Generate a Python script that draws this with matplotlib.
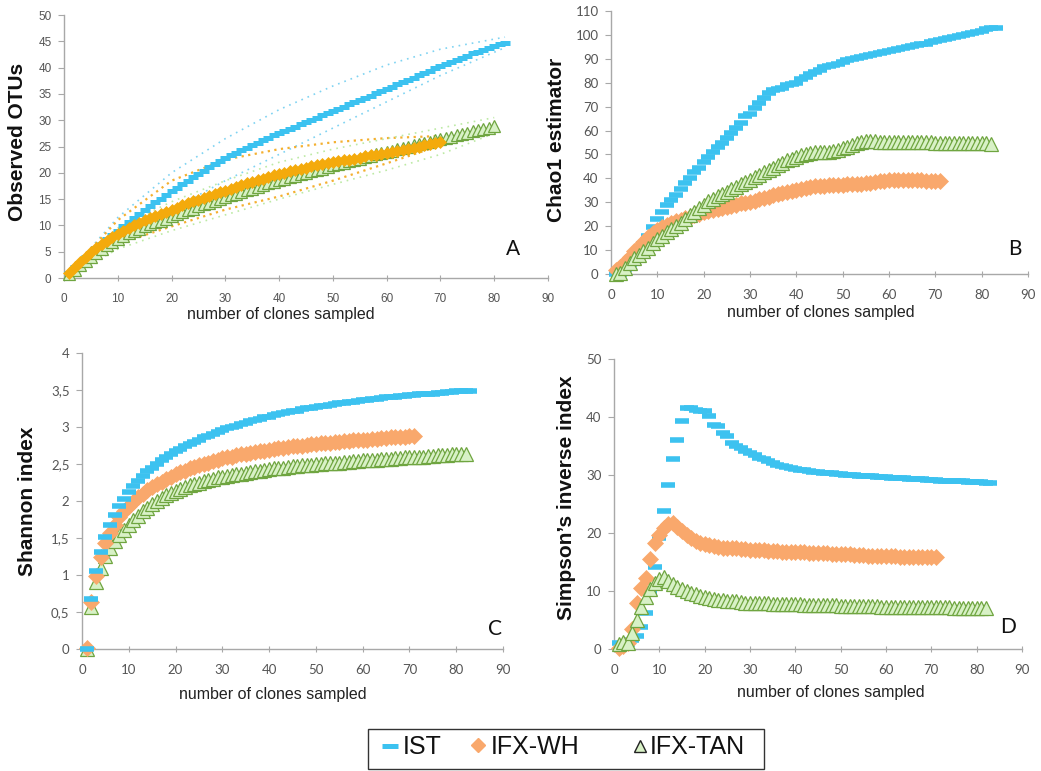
import matplotlib
matplotlib.use("Agg")
import matplotlib.pyplot as plt
from matplotlib.ticker import FuncFormatter, MultipleLocator
from matplotlib.patches import Rectangle

W, H = 1041, 771

# ---------------- data ----------------
# Panel A: Observed OTUs
A_ist = [1.0, 2.0, 2.9, 3.9, 4.8, 5.7, 6.5, 7.4, 8.2, 9.0,
         9.8, 10.6, 11.4, 12.1, 12.9, 13.6, 14.4, 15.1, 15.8, 16.5,
         17.2, 17.8, 18.5, 19.2, 19.8, 20.4, 21.1, 21.7, 22.3, 22.8,
         23.3, 23.8, 24.3, 24.8, 25.3, 25.7, 26.2, 26.6, 27.1, 27.5,
         27.9, 28.3, 28.8, 29.2, 29.6, 30.0, 30.4, 30.9, 31.3, 31.7,
         32.1, 32.5, 33.0, 33.4, 33.8, 34.2, 34.6, 35.1, 35.5, 35.9,
         36.3, 36.8, 37.2, 37.7, 38.1, 38.5, 39.0, 39.4, 39.9, 40.3,
         40.7, 41.1, 41.5, 41.9, 42.3, 42.7, 43.0, 43.4, 43.8, 44.1, 44.4, 44.7]
A_wh = [1.0, 2.0, 3.0, 4.0, 5.0, 5.7, 6.4, 7.1, 7.8, 8.4,
        9.0, 9.5, 10.0, 10.5, 11.0, 11.4, 11.8, 12.2, 12.6, 13.0,
        13.4, 13.8, 14.2, 14.6, 14.9, 15.3, 15.6, 15.9, 16.3, 16.6,
        17.0, 17.3, 17.6, 18.0, 18.3, 18.6, 18.9, 19.2, 19.5, 19.8,
        20.0, 20.3, 20.5, 20.8, 21.0, 21.2, 21.4, 21.6, 21.8, 22.0,
        22.2, 22.4, 22.5, 22.7, 22.9, 23.1, 23.3, 23.4, 23.6, 23.8,
        24.0, 24.2, 24.4, 24.6, 24.8, 25.0, 25.2, 25.5, 25.7, 25.9]
A_tan = [0.8, 1.6, 2.4, 3.2, 4.0, 4.8, 5.5, 6.2, 6.9, 7.5,
         8.0, 8.5, 8.9, 9.4, 9.8, 10.2, 10.6, 10.9, 11.3, 11.7,
         12.1, 12.5, 12.9, 13.2, 13.6, 14.0, 14.3, 14.7, 15.0, 15.4,
         15.7, 16.0, 16.4, 16.7, 17.0, 17.3, 17.6, 18.0, 18.3, 18.6,
         18.9, 19.2, 19.4, 19.7, 20.0, 20.3, 20.6, 20.8, 21.1, 21.4,
         21.7, 21.9, 22.2, 22.4, 22.7, 23.0, 23.2, 23.5, 23.7, 24.0,
         24.2, 24.5, 24.7, 25.0, 25.2, 25.4, 25.7, 25.9, 26.2, 26.4,
         26.6, 26.9, 27.1, 27.4, 27.6, 27.9, 28.1, 28.4, 28.6, 28.9]
# Panel A confidence bounds (dotted lines)
A_ist_ci_x = [0, 10, 20, 30, 40, 50, 60, 70, 82]
A_ist_hi = [0, 11.5, 20.0, 26.5, 32.0, 36.5, 40.5, 43.5, 45.8]
A_ist_lo = [0, 7.0, 13.0, 18.5, 23.5, 28.5, 33.5, 38.5, 43.8]
A_wh_ci_x = [0, 10, 20, 30, 40, 50, 60, 70]
A_wh_hi = [0, 11.0, 18.5, 22.5, 24.5, 25.8, 26.6, 27.0]
A_wh_lo = [0, 6.5, 9.8, 13.0, 15.5, 18.5, 21.8, 25.2]
A_tan_ci_x = [0, 10, 20, 30, 40, 50, 60, 70, 80]
A_tan_hi = [0, 9.5, 14.5, 18.5, 22.0, 24.5, 26.5, 28.5, 30.5]
A_tan_lo = [0, 5.5, 9.0, 12.0, 15.0, 17.8, 20.5, 23.5, 27.5]

# Panel B: Chao1 estimator
B_ist = [0, 0, 2, 4, 6.5, 9, 12.5, 16, 19.5, 23,
         26, 29, 31, 33, 35.5, 38, 40, 42.5, 44.5, 47,
         49, 51, 53, 55, 57, 59, 61, 63, 66, 67,
         69.5, 71.5, 73.5, 75.5, 77, 77.5, 78, 79, 79.5, 80,
         81.5, 82.5, 83.5, 84.5, 85.5, 86.5, 87, 87.5, 88, 88.7,
         89.3, 89.8, 90.3, 90.8, 91.3, 91.7, 92, 92.4, 92.8, 93.3,
         93.8, 94.2, 94.6, 95, 95.5, 95.8, 96, 96.3, 97, 97.5,
         98, 98.4, 98.8, 99.2, 99.6, 100, 100.5, 101, 101.4, 101.8,
         102.3, 102.7, 103]
B_wh = [1.5, 3, 5, 7, 9.5, 11.5, 13.5, 15.5, 17, 18.5,
        19.5, 20.5, 21.3, 22, 22.7, 23.4, 24, 24.7, 25.3, 26,
        26.5, 26.9, 27.3, 27.8, 28.2, 28.6, 29, 29.5, 29.8, 30.2,
        30.7, 31.3, 31.8, 32.4, 33, 33.5, 34, 34.5, 34.9, 35.3,
        35.7, 36, 36.3, 36.6, 36.8, 37, 37.1, 37.2, 37.3, 37.4,
        37.5, 37.6, 37.7, 37.8, 38, 38.2, 38.5, 38.8, 39.1, 39.3,
        39.2, 39.2, 39.2, 39.2, 39.2, 39.2, 39.2, 39.1, 39.1, 39.1, 39.1]
B_tan = [0, 0.5, 2.5, 4.5, 6.5, 8, 9.5, 11, 13, 14.5,
         16, 17.5, 19, 20, 21.5, 23, 24.5, 26, 27.5, 29,
         30.5, 31.5, 32.5, 33.5, 34.5, 35.5, 36.5, 37.5, 38.5, 39.5,
         40.5, 41.5, 42.5, 43.5, 44.5, 45.5, 46.5, 47.5, 48.3, 49,
         49.7, 50.3, 50.8, 51.2, 51, 51, 51.2, 51.5, 52, 52.5,
         53.2, 54, 54.7, 55.2, 55.5, 55.5, 55.5, 55.4, 55.4, 55.4,
         55.3, 55.3, 55.3, 55.2, 55.2, 55.2, 55.1, 55.1, 55.1, 55.0,
         55.0, 55.0, 54.9, 54.9, 54.9, 54.8, 54.8, 54.7, 54.7, 54.6,
         54.6, 54.5]

# Panel C: Shannon index
C_ist = [0, 0.67, 1.05, 1.31, 1.52, 1.68, 1.81, 1.93, 2.03, 2.12,
         2.2, 2.27, 2.34, 2.4, 2.45, 2.5, 2.55, 2.59, 2.63, 2.67,
         2.7, 2.74, 2.77, 2.8, 2.83, 2.86, 2.88, 2.91, 2.93, 2.96,
         2.98, 3.0, 3.02, 3.04, 3.06, 3.08, 3.09, 3.11, 3.13, 3.14,
         3.16, 3.17, 3.19, 3.2, 3.21, 3.22, 3.24, 3.25, 3.26, 3.27,
         3.28, 3.29, 3.3, 3.31, 3.32, 3.33, 3.34, 3.34, 3.35, 3.36,
         3.37, 3.38, 3.38, 3.39, 3.4, 3.4, 3.41, 3.42, 3.42, 3.43,
         3.43, 3.44, 3.44, 3.45, 3.45, 3.46, 3.46, 3.47, 3.47, 3.48,
         3.48, 3.48, 3.49]
C_wh = [0.02, 0.64, 0.99, 1.24, 1.43, 1.57, 1.68, 1.78, 1.86, 1.93,
        1.99, 2.05, 2.1, 2.15, 2.19, 2.23, 2.26, 2.3, 2.33, 2.36,
        2.39, 2.41, 2.44, 2.46, 2.48, 2.5, 2.52, 2.54, 2.56, 2.58,
        2.59, 2.6, 2.62, 2.63, 2.64, 2.65, 2.66, 2.67, 2.68, 2.69,
        2.7, 2.71, 2.72, 2.73, 2.74, 2.74, 2.75, 2.76, 2.77, 2.77,
        2.78, 2.79, 2.79, 2.8, 2.8, 2.81, 2.81, 2.82, 2.82, 2.83,
        2.83, 2.84, 2.84, 2.85, 2.85, 2.86, 2.86, 2.87, 2.87, 2.88, 2.88]
C_tan = [0, 0.57, 0.9, 1.1, 1.26, 1.37, 1.46, 1.54, 1.61, 1.68,
         1.74, 1.8, 1.86, 1.91, 1.96, 2.0, 2.04, 2.08, 2.11, 2.14,
         2.16, 2.19, 2.21, 2.23, 2.25, 2.27, 2.29, 2.3, 2.32, 2.33,
         2.34, 2.35, 2.36, 2.37, 2.38, 2.39, 2.4, 2.41, 2.42, 2.43,
         2.44, 2.45, 2.45, 2.46, 2.47, 2.47, 2.48, 2.49, 2.49, 2.5,
         2.5, 2.51, 2.51, 2.52, 2.52, 2.53, 2.53, 2.54, 2.54, 2.55,
         2.55, 2.56, 2.56, 2.57, 2.57, 2.57, 2.58, 2.58, 2.59, 2.59,
         2.6, 2.6, 2.6, 2.61, 2.61, 2.62, 2.62, 2.62, 2.63, 2.63,
         2.64, 2.64]

# Panel D: Simpson's inverse index
D_ist = [1.0, 0.5, 0.8, 1.5, 2.2, 3.8, 6.2, 9.6, 14.2, 19.2,
         23.8, 28.2, 32.8, 36.1, 39.3, 41.5, 41.5, 41.2, 41.1, 41.0,
         40.1, 38.7, 38.4, 37.2, 36.7, 35.6, 35.0, 34.6, 34.2, 33.8,
         33.4, 33.0, 32.7, 32.4, 32.1, 31.8, 31.6, 31.4, 31.2, 31.0,
         30.9, 30.8, 30.7, 30.6, 30.5, 30.4, 30.35, 30.3, 30.2, 30.1,
         30.05, 30.0, 29.95, 29.9, 29.85, 29.8, 29.75, 29.7, 29.65, 29.6,
         29.55, 29.5, 29.45, 29.4, 29.35, 29.3, 29.3, 29.25, 29.2, 29.15,
         29.1, 29.05, 29.0, 29.0, 28.95, 28.9, 28.9, 28.85, 28.8, 28.8,
         28.75, 28.7, 28.7]
D_wh = [0.2, 0.5, 1.0, 3.5, 8.0, 10.5, 12.2, 15.6, 18.2, 19.7,
        20.8, 21.5, 21.7, 21.0, 20.3, 19.6, 19.1, 18.6, 18.3, 18.1,
        17.9, 17.8, 17.6, 17.5, 17.5, 17.4, 17.4, 17.3, 17.2, 17.1,
        17.1, 17.0, 17.0, 16.9, 16.9, 16.9, 16.8, 16.8, 16.8, 16.7,
        16.7, 16.7, 16.6, 16.6, 16.5, 16.5, 16.5, 16.4, 16.4, 16.3,
        16.3, 16.3, 16.2, 16.2, 16.2, 16.1, 16.1, 16.1, 16.0, 16.0,
        16.0, 16.0, 15.9, 15.9, 15.9, 15.9, 15.8, 15.8, 15.8, 15.8, 15.8]
D_tan = [0.8, 1.2, 1.0, 2.8, 5.0, 7.2, 9.0, 10.3, 11.3, 12.0,
         12.4, 11.8, 11.2, 10.7, 10.3, 10.0, 9.7, 9.4, 9.2, 9.0,
         8.8, 8.7, 8.5, 8.4, 8.3, 8.2, 8.2, 8.1, 8.0, 8.0,
         7.95, 7.9, 7.9, 7.85, 7.8, 7.8, 7.75, 7.75, 7.7, 7.7,
         7.68, 7.66, 7.64, 7.62, 7.6, 7.58, 7.56, 7.54, 7.52, 7.5,
         7.48, 7.46, 7.44, 7.42, 7.4, 7.38, 7.36, 7.34, 7.32, 7.3,
         7.29, 7.28, 7.27, 7.26, 7.25, 7.24, 7.23, 7.22, 7.21, 7.2,
         7.19, 7.18, 7.17, 7.16, 7.15, 7.14, 7.13, 7.12, 7.11, 7.1,
         7.1, 7.1]

SERIES = ["IST", "IFX-WH", "IFX-TAN"]
XLABEL = "number of clones sampled"

# ---------------- styles ----------------
BLUE = "#3CC2F0"
ORANGE = "#F9A86C"
GOLD = "#F4AA0C"
TAN_FACE = "#D8F1C6"
TAN_EDGE = "#6FA540"
AXCOL = "#A8A8A8"
TICKCOL = "#555555"

fig = plt.figure(figsize=(W / 100, H / 100), dpi=100)


def rect(l, r, t, b):
    return [l / W, 1 - b / H, (r - l) / W, (b - t) / H]


def style_axes(ax, ymax, ystep, tickfont, tsize, fmt=None):
    ax.set_xlim(0, 90)
    ax.set_ylim(0, ymax)
    for s in ("top", "right"):
        ax.spines[s].set_visible(False)
    for s in ("left", "bottom"):
        ax.spines[s].set_color(AXCOL)
        ax.spines[s].set_linewidth(1.0)
    ax.xaxis.set_major_locator(MultipleLocator(10))
    ax.yaxis.set_major_locator(MultipleLocator(ystep))
    if fmt is not None:
        ax.yaxis.set_major_formatter(fmt)
    ax.tick_params(axis="y", direction="out", length=4, color=AXCOL,
                   labelcolor=TICKCOL, labelsize=tsize, pad=5)
    ax.tick_params(axis="x", direction="inout", length=5, color=AXCOL,
                   labelcolor=TICKCOL, labelsize=tsize, pad=8)
    for lab in ax.get_xticklabels() + ax.get_yticklabels():
        lab.set_family(tickfont)


def xs(vals):
    return list(range(1, len(vals) + 1))


def draw_ist(ax, vals, ms, mew, z):
    ax.plot(xs(vals), vals, linestyle="none", marker="_", ms=ms, mew=mew,
            color=BLUE, clip_on=False, zorder=z)


def draw_wh(ax, vals, ms, color, z):
    ax.plot(xs(vals), vals, linestyle="none", marker="D", ms=ms,
            mfc=color, mec=color, mew=0.5, clip_on=False, zorder=z)


def draw_tan(ax, vals, ms, z):
    ax.plot(xs(vals), vals, linestyle="none", marker="^", ms=ms,
            mfc=TAN_FACE, mec=TAN_EDGE, mew=0.9, clip_on=False, zorder=z)


# ---- Panel A ----
axA = fig.add_axes(rect(64, 548, 15, 278))
style_axes(axA, 50, 5, "Liberation Sans", 8.5)
axA.plot(A_ist_ci_x, A_ist_hi, ls=(0, (1, 3)), lw=1.2, color="#7FD3F2", zorder=1)
axA.plot(A_ist_ci_x, A_ist_lo, ls=(0, (1, 3)), lw=1.2, color="#7FD3F2", zorder=1)
axA.plot(A_wh_ci_x, A_wh_hi, ls=(0, (1, 2)), lw=1.6, color="#F4B030", zorder=1)
axA.plot(A_wh_ci_x, A_wh_lo, ls=(0, (1, 2)), lw=1.6, color="#F4B030", zorder=1)
axA.plot(A_tan_ci_x, A_tan_hi, ls=(0, (1, 3)), lw=1.2, color="#BDEAA5", zorder=1)
axA.plot(A_tan_ci_x, A_tan_lo, ls=(0, (1, 3)), lw=1.2, color="#BDEAA5", zorder=1)
draw_ist(axA, A_ist, 7, 3.6, 3)
draw_tan(axA, A_tan, 8.5, 4)
draw_wh(axA, A_wh, 6, GOLD, 5)

# ---- Panel B ----
axB = fig.add_axes(rect(611, 1028, 11, 274))
style_axes(axB, 110, 10, "Lato", 9.5)
draw_ist(axB, B_ist, 10.5, 4.0, 3)
draw_wh(axB, B_wh, 8.5, ORANGE, 4)
draw_tan(axB, B_tan, 10.5, 5)

# ---- Panel C ----
comma = FuncFormatter(lambda v, p: ("%g" % v).replace(".", ","))
axC = fig.add_axes(rect(82, 503, 353, 649))
style_axes(axC, 4, 0.5, "Lato", 9.5, fmt=comma)
draw_tan(axC, C_tan, 10.5, 3)
draw_wh(axC, C_wh, 8.5, ORANGE, 4)
draw_ist(axC, C_ist, 10.5, 4.0, 5)

# ---- Panel D ----
axD = fig.add_axes(rect(614, 1022, 359, 649))
style_axes(axD, 50, 10, "Lato", 9.5)
draw_ist(axD, D_ist, 10.5, 4.0, 3)
draw_wh(axD, D_wh, 8.5, ORANGE, 4)
draw_tan(axD, D_tan, 10.5, 5)

# ---- axis titles ----
def ftext(x, y, s, **kw):
    fig.text(x / W, 1 - y / H, s, **kw)


ylab = dict(rotation=90, ha="center", va="center", fontsize=15,
            fontweight="bold", family="Liberation Sans", color="#111111")
ftext(18, 142, "Observed OTUs", **ylab)
ftext(557, 140, "Chao1 estimator", **ylab)
ftext(28, 501, "Shannon index", **ylab)
ftext(567, 498, "Simpson\u2019s inverse index", **ylab)

xlab = dict(ha="center", va="center", fontsize=11.5, family="Liberation Sans",
            color="#222222")
ftext(281, 314, XLABEL, **xlab)
ftext(821, 312, XLABEL, **xlab)
ftext(273, 694, XLABEL, **xlab)
ftext(831, 693, XLABEL, **xlab)

plab = dict(ha="center", va="center", fontsize=15, family="Lato", color="#111111")
ftext(513, 249, "A", **plab)
ftext(1015, 249, "B", **plab)
ftext(495, 629, "C", **plab)
ftext(1008, 627, "D", **plab)

# ---- legend ----
lx0, lx1, ly0, ly1 = 367, 765, 728, 770
axL = fig.add_axes(rect(lx0, lx1, ly0, ly1))
axL.set_xlim(lx0, lx1)
axL.set_ylim(ly1, ly0)
axL.axis("off")
axL.add_patch(Rectangle((lx0 + 0.5, ly0 + 0.5), lx1 - lx0 - 1.5, ly1 - ly0 - 1.5,
                        fill=False, ec="#333333", lw=1.0, clip_on=False))
ycen = 746
axL.plot([389.5], [ycen], marker="_", ms=11, mew=3.6, color=BLUE)
axL.plot([478], [ycen - 1], marker="D", ms=7, mfc=ORANGE, mec=ORANGE)
axL.plot([640], [ycen], marker="^", ms=9, mfc=TAN_FACE, mec="#222222", mew=1.0)
lt = dict(ha="left", va="center", fontsize=18, family="Liberation Sans",
          color="#111111")
axL.text(403, ycen + 1, SERIES[0], **lt)
axL.text(491, ycen + 1, SERIES[1], **lt)
axL.text(650, ycen + 1, SERIES[2], **lt)

fig.savefig("out.png", dpi=100)
